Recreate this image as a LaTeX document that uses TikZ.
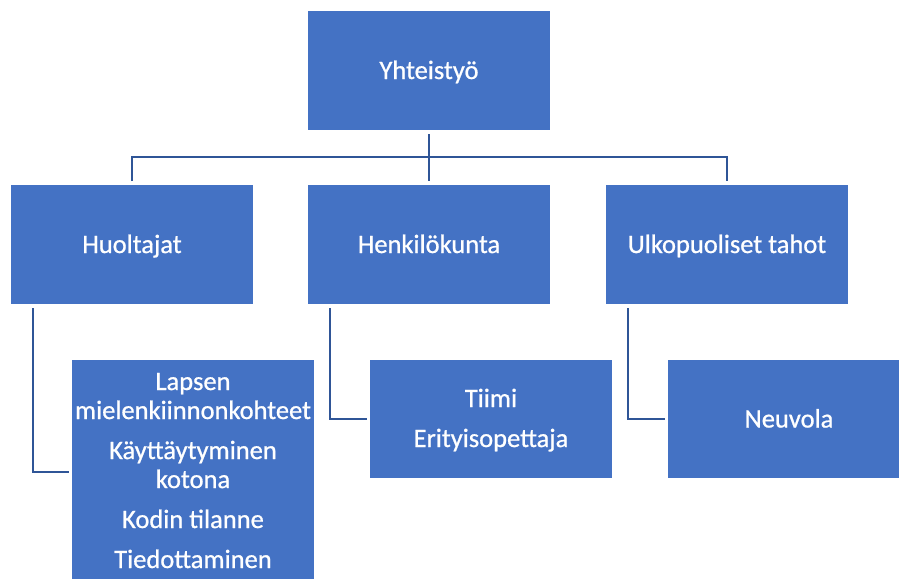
\documentclass[tikz,border=0pt]{standalone}
\usepackage{fontspec}
\setmainfont{Carlito}
\newfontfamily\boxfont{Carlito}[FakeBold=0.8]
\definecolor{boxblue}{HTML}{4472C4}
\definecolor{linkblue}{HTML}{2F5597}
\begin{document}
\begin{tikzpicture}[x=1pt,y=-1pt,
  orgbox/.style={rectangle, fill=boxblue, draw=white, line width=1.2pt,
    minimum width=244pt, minimum height=121pt, outer sep=0pt, inner sep=0pt,
    text=white, font=\boxfont\fontsize{26.5}{29}\selectfont,
    text height=17pt, text depth=0pt, align=center},
  boxtext/.style={text=white, font=\boxfont\fontsize{26.5}{29}\selectfont,
    align=center, inner sep=0pt, outer sep=0pt},
  link/.style={draw=linkblue, line width=2pt, line join=miter}]
\useasboundingbox (0,0) rectangle (899,578);
\clip (0,0) rectangle (899,578);

% height of the horizontal bus under the top box
\coordinate (bus) at (0,157);

% level 1
\node[orgbox, anchor=north west] (top) at (307,10) {Yhteistyö};

% level 2
\node[orgbox, anchor=north west] (huol) at (10,184) {Huoltajat};
\node[orgbox, anchor=north west] (henk) at (307,184) {Henkilökunta};
\node[orgbox, anchor=north west] (ulko) at (605,184) {Ulkopuoliset tahot};

% level 3 boxes
\node[orgbox, anchor=north west, minimum height=226pt] (lapsen) at (71,359) {};
\node[orgbox, anchor=north west, minimum height=120pt] (tiimi) at (369,359) {};
\node[orgbox, anchor=north west, minimum height=120pt] (neuvola) at (667,359) {Neuvola};

% level 3 texts (anchored at the baseline of the last line)
\node[boxtext, anchor=base] (lapsentxt) at (193,568)
  {Lapsen\\mielenkiinnonkohteet\\[11pt]Käyttäytyminen\\kotona\\[11pt]Kodin tilanne\\[11pt]Tiedottaminen};
\node[boxtext, anchor=base] (tiimitxt) at (491,447) {Tiimi\\[11pt]Erityisopettaja};

% tree connectors
\draw[link, shorten <=3pt, shorten >=3pt] (top.south) -- (henk.north);
\draw[link, shorten <=3pt, shorten >=3pt]
  (huol.north) -- (huol.north |- bus) -- (ulko.north |- bus) -- (ulko.north);

% side connectors down to the detail boxes
\draw[link, shorten <=3pt, shorten >=2pt] ([xshift=23pt]huol.south west) |- (lapsen.west);
\draw[link, shorten <=3pt, shorten >=2pt] ([xshift=23pt]henk.south west) |- (tiimi.west);
\draw[link, shorten <=3pt, shorten >=2pt] ([xshift=23pt]ulko.south west) |- (neuvola.west);
\end{tikzpicture}
\end{document}
